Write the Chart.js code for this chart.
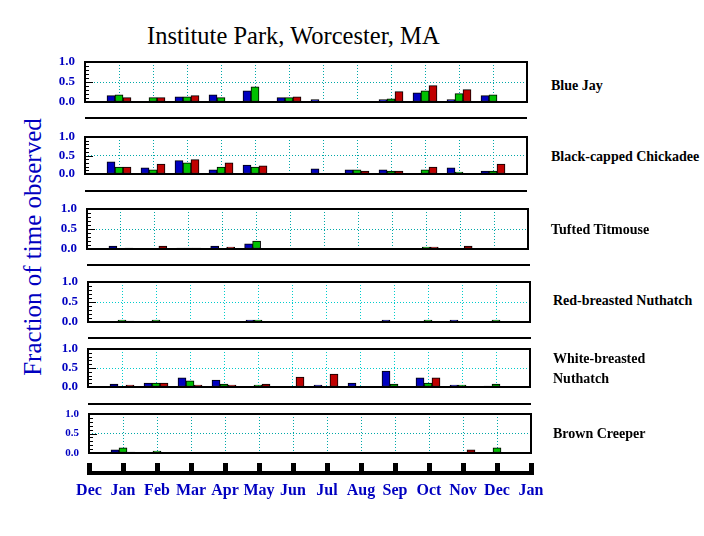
<!DOCTYPE html>
<html>
<head>
<meta charset="utf-8">
<script src="https://cdn.jsdelivr.net/npm/chart.js@4.4.1/dist/chart.umd.min.js"></script>
<style>
  body { margin: 0; background: #fff; }
  #page { position: relative; width: 704px; height: 536px; overflow: hidden; font-family: 'Liberation Serif', 'Times New Roman', serif; }
  #page canvas { position: absolute; }
  .txt { position: absolute; white-space: nowrap; }
  .sep { position: absolute; height: 2px; background: #000; }
  .species { font-size: 14px; font-weight: bold; line-height: 20px; color: #000; }
</style>
</head>
<body>
<div id="page">
  <div class="txt" id="title" style="left:147px; top:22px; font-size:24.5px; line-height:28px;">Institute Park, Worcester, MA</div>
  <div class="txt" id="ytitle" style="left:-117px; top:232px; width:300px; height:30px; font-size:25px; line-height:30px; color:#0000c0; text-align:center; transform:rotate(-90deg);">Fraction of time observed</div>
</div>
<script>
// axis labels, Dec .. Jan (data sits on Jan .. Dec)
const months = ['Dec', 'Jan', 'Feb', 'Mar', 'Apr', 'May', 'Jun', 'Jul', 'Aug', 'Sep', 'Oct', 'Nov', 'Dec', 'Jan'];
const speciesNames = ['Blue Jay', 'Black-capped Chickadee', 'Tufted Titmouse', 'Red-breasted Nuthatch', 'White-breasted Nuthatch', 'Brown Creeper'];
const yTicks = [0, 0.5, 1];

// fraction of time observed, Jan .. Dec; one array per bar colour (0 = no bar)
const blueJayBlue   = [0.16, 0,    0.13, 0.18, 0.28, 0.11, 0.06, 0,    0.06, 0.23, 0.06, 0.16];
const blueJayGreen  = [0.18, 0.11, 0.13, 0.11, 0.38, 0.11, 0,    0,    0.08, 0.28, 0.21, 0.18];
const blueJayRed    = [0.11, 0.11, 0.16, 0,    0,    0.13, 0,    0,    0.26, 0.41, 0.31, 0];

const chickadeeBlue  = [0.33, 0.17, 0.36, 0.11, 0.24, 0,    0.14, 0.11, 0.11, 0,    0.17, 0.08];
const chickadeeGreen = [0.19, 0.11, 0.30, 0.19, 0.19, 0,    0,    0.11, 0.08, 0.11, 0.05, 0.08];
const chickadeeRed   = [0.19, 0.27, 0.39, 0.30, 0.22, 0,    0,    0.08, 0.08, 0.19, 0,    0.27];

const titmouseBlue  = [0.075, 0,     0.02, 0.075, 0.13, 0, 0, 0, 0, 0,    0,     0];
const titmouseGreen = [0,     0,     0.02, 0,     0.20, 0, 0, 0, 0, 0.05, 0,     0];
const titmouseRed   = [0.02,  0.075, 0.02, 0.05,  0,    0, 0, 0, 0, 0.05, 0.075, 0];

const redNuthatchBlue  = [0,     0,    0, 0, 0.05, 0, 0, 0, 0.05, 0,    0.05, 0];
const redNuthatchGreen = [0.05,  0.05, 0, 0, 0.05, 0, 0, 0, 0,    0.05, 0,    0.05];
const redNuthatchRed   = [0.025, 0,    0, 0, 0,    0, 0, 0, 0,    0,    0,    0];

const whiteNuthatchBlue  = [0.08, 0.105, 0.24, 0.18, 0,    0,    0.05, 0.105, 0.42, 0.24,  0.05, 0.025];
const whiteNuthatchGreen = [0,    0.105, 0.16, 0.08, 0.05, 0,    0,    0,     0.08, 0.105, 0.05, 0.08];
const whiteNuthatchRed   = [0.05, 0.105, 0.05, 0.05, 0.08, 0.26, 0.34, 0,     0,    0.24,  0,    0];

const creeperBlue  = [0.08,  0,    0, 0, 0, 0, 0, 0, 0, 0, 0,    0];
const creeperGreen = [0.13,  0.05, 0, 0, 0, 0, 0, 0, 0, 0, 0,    0.13];
const creeperRed   = [0.025, 0,    0, 0, 0, 0, 0, 0, 0, 0, 0.08, 0];

const barColors = ['#0000c0', '#00c000', '#c00000'];
const blue = '#0000c0';

// box = [left, top, right, bottom] of each plot frame
const panels = [
  { series: [blueJayBlue, blueJayGreen, blueJayRed], box: [85, 62, 527, 102], grid: '#00a8a8', tickFont: 13, label: [551, 76] },
  { series: [chickadeeBlue, chickadeeGreen, chickadeeRed], box: [85, 137, 527, 174], grid: '#00a8a8', tickFont: 13, label: [551, 147] },
  { series: [titmouseBlue, titmouseGreen, titmouseRed], box: [87, 209, 528, 249], grid: '#00a8a8', tickFont: 13, label: [551, 220] },
  { series: [redNuthatchBlue, redNuthatchGreen, redNuthatchRed], box: [88, 282, 530, 322], grid: '#00cccc', tickFont: 13, label: [553, 291] },
  { series: [whiteNuthatchBlue, whiteNuthatchGreen, whiteNuthatchRed], box: [88, 349, 530, 387], grid: '#00cccc', tickFont: 13, label: [553, 349] },
  { series: [creeperBlue, creeperGreen, creeperRed], box: [89, 414, 531, 453], grid: '#00a8a8', tickFont: 11, label: [553, 424] },
];
const separators = [[85, 118, 527], [85, 191, 527], [87, 265, 530], [88, 338, 531], [88, 404, 531]];

const page = document.getElementById('page');
const PAD = 22;

/** Ramka va ichki kichik chiziqlar */
const framePlugin = {
  id: 'frame',
  afterDraw(chart) {
    const { ctx, chartArea: a, scales: { y } } = chart;
    ctx.save();
    ctx.strokeStyle = '#000';
    ctx.lineWidth = 1;
    for (let i = 1; i < 10; i++) {
      const py = Math.round(y.getPixelForValue(i / 10)) + 0.5;
      const len = i === 5 ? 8 : 4;
      ctx.beginPath();
      ctx.moveTo(a.left, py);
      ctx.lineTo(a.left + len, py);
      ctx.stroke();
    }
    ctx.lineWidth = 2;
    ctx.strokeRect(a.left, a.top, a.right - a.left, a.bottom - a.top);
    ctx.restore();
  }
};

function addCanvas(left, top, width, height) {
  const c = document.createElement('canvas');
  c.width = width;
  c.height = height;
  c.style.left = left + 'px';
  c.style.top = top + 'px';
  c.style.width = width + 'px';
  c.style.height = height + 'px';
  page.appendChild(c);
  return c;
}

panels.forEach((p, idx) => {
  const [l, t, r, b] = p.box;
  const canvas = addCanvas(l - 50, t - PAD, (r - l) + 60, (b - t) + 2 * PAD);

  new Chart(canvas, {
    type: 'bar',
    data: {
      labels: months,
      datasets: p.series.map((vals, i) => ({
        data: [null, ...vals.map(v => (v === 0 ? null : v)), null],
        backgroundColor: barColors[i],
        borderColor: '#000',
        borderWidth: 1,
        borderSkipped: false,
        barThickness: 8,
      }))
    },
    options: {
      responsive: false,
      animation: false,
      layout: { padding: { left: 0, right: 10, top: PAD, bottom: PAD } },
      plugins: { legend: { display: false }, tooltip: { enabled: false } },
      scales: {
        x: {
          offset: false,
          afterFit: s => { s.height = 0; },
          grid: {
            offset: false,
            drawTicks: false,
            color: c => (c.index > 0 && c.index < months.length - 1 ? p.grid : 'transparent'),
          },
          border: { display: false, dash: [1, 2] },
          ticks: { display: false },
        },
        y: {
          min: 0,
          max: 1,
          afterFit: s => { s.width = 50; },
          afterBuildTicks: s => { s.ticks = yTicks.map(v => ({ value: v })); },
          grid: {
            drawTicks: false,
            color: c => (c.tick && c.tick.value === 0.5 ? p.grid : 'transparent'),
          },
          border: { display: false, dash: [1, 2] },
          ticks: {
            autoSkip: false,
            padding: 10,
            color: blue,
            font: { family: "'Liberation Serif', serif", size: p.tickFont, weight: 'bold' },
            callback: v => Number(v).toFixed(1),
          },
        },
      },
    },
    plugins: [framePlugin],
  });

  const lbl = document.createElement('div');
  lbl.className = 'txt species';
  lbl.style.left = p.label[0] + 'px';
  lbl.style.top = p.label[1] + 'px';
  lbl.innerHTML = idx === 4 ? 'White-breasted<br>Nuthatch' : speciesNames[idx];
  page.appendChild(lbl);
});

separators.forEach(([x1, y, x2]) => {
  const d = document.createElement('div');
  d.className = 'sep';
  d.style.left = x1 + 'px';
  d.style.top = (y - 1) + 'px';
  d.style.width = (x2 - x1) + 'px';
  page.appendChild(d);
});

// ===== pastki oy o'qi =====
const axisCanvas = addCanvas(59, 458, 502, 60);
new Chart(axisCanvas, {
  type: 'line',
  data: { labels: months, datasets: [] },
  options: {
    responsive: false,
    animation: false,
    layout: { padding: { left: 30, right: 30, top: 5, bottom: 5 } },
    plugins: { legend: { display: false }, tooltip: { enabled: false } },
    scales: {
      x: {
        offset: false,
        afterFit: s => { s.height = 40; },
        grid: { offset: false, drawTicks: false, color: '#000', lineWidth: 5 },
        border: { display: true, color: '#000', width: 4 },
        ticks: {
          autoSkip: false,
          maxRotation: 0,
          padding: 8,
          color: blue,
          font: { family: "'Liberation Serif', serif", size: 16, weight: 'bold' },
        },
      },
      y: { display: false },
    },
  },
});
</script>
</body>
</html>
